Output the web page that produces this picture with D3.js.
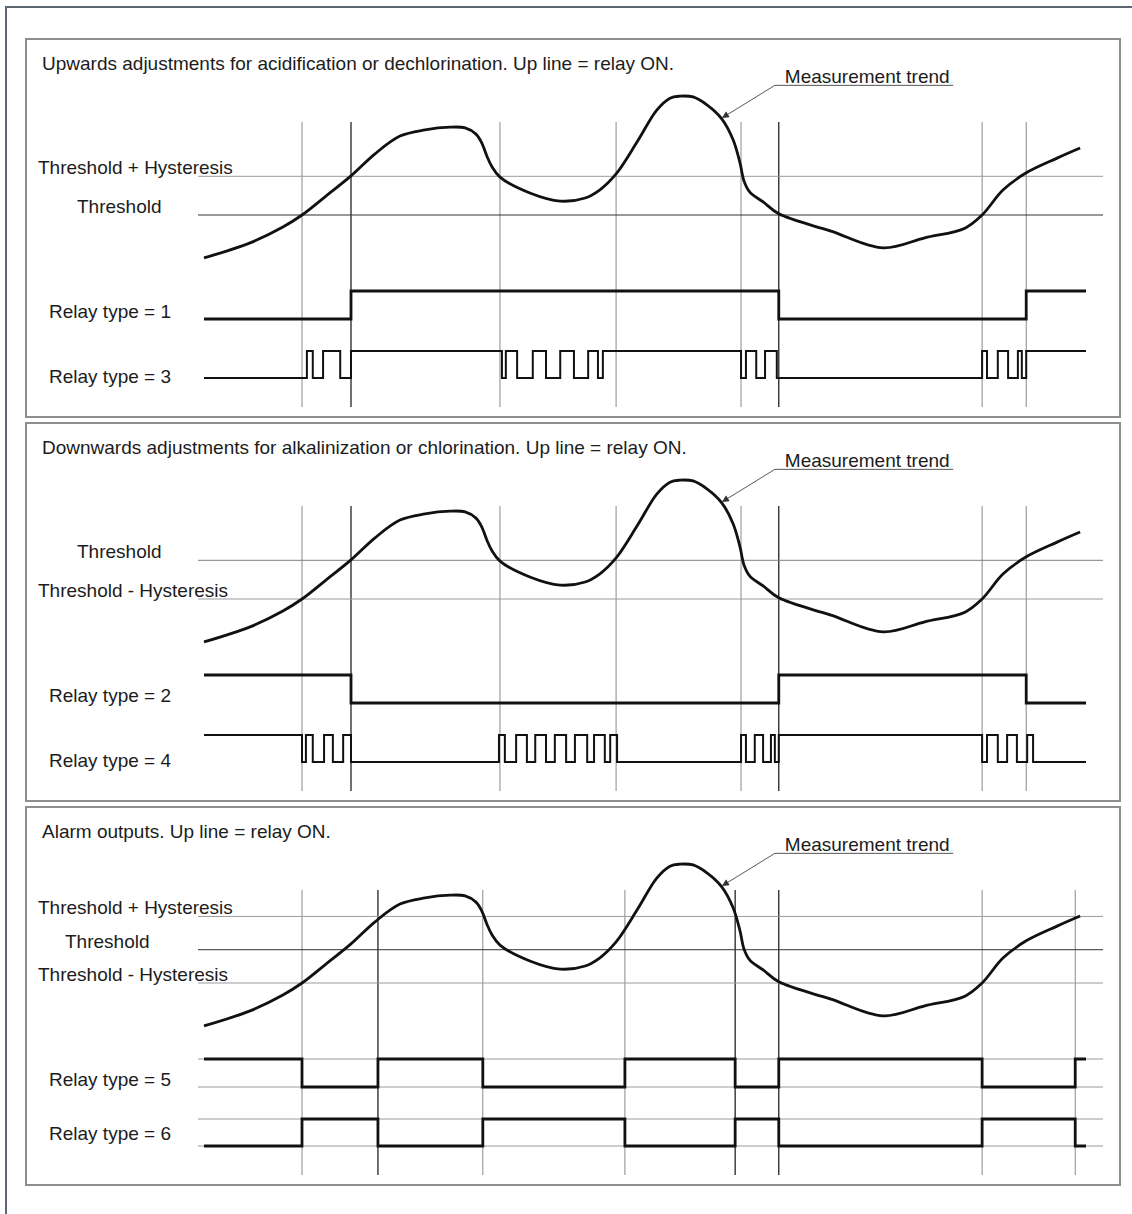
<!DOCTYPE html>
<html>
<head>
<meta charset="utf-8">
<script src="https://cdn.jsdelivr.net/npm/d3@7"></script>
<style>
  body { margin: 0; background: #fff; }
  svg text { font-family: "Liberation Sans", Arial, sans-serif; font-size: 19px; fill: #1c1c1c; }
</style>
</head>
<body>
<svg id="chart" width="1132" height="1214"></svg>
<script>
// Measurement trend (time in s, value in measurement units)
const trendTime = [0, 9.4, 16.1, 20.0, 24.7, 30.0, 34.9, 40.0, 45.1, 50.2, 53.3, 55.5, 56.7, 57.8,
  58.8, 60.4, 66.5, 72.7, 77.8, 80.8, 84.1, 88.4, 92.4, 95.1, 97.1, 99.8, 102.7, 105.7, 108.0,
  109.4, 110.2, 111.4, 114.1, 117.3, 127.8, 138.6, 147.1, 155.3, 158.8, 163.1, 167.8, 174.1, 178.8];
const trendValue = [3.89, 4.28, 4.69, 5.00, 5.47, 6.01, 6.58, 7.04, 7.20, 7.27, 7.25, 7.09, 6.86, 6.50,
  6.24, 5.98, 5.57, 5.36, 5.44, 5.65, 6.06, 6.89, 7.71, 8.02, 8.07, 8.05, 7.84, 7.48, 6.94,
  6.34, 5.88, 5.59, 5.34, 5.03, 4.59, 4.15, 4.41, 4.66, 5.00, 5.65, 6.09, 6.47, 6.73];

// times where the trend crosses a level
const adjustEvents = [20.0, 30.0, 60.4, 84.1, 109.6, 117.3, 158.8, 167.8];
const alarmEvents = [20.0, 35.5, 56.9, 85.9, 108.4, 117.3, 158.8, 177.8];

// relay switching times (each time toggles the state)
const relay1Edges = [30.0, 117.3, 167.8];
const relay3Edges = [21.0, 22.2, 24.3, 27.8, 30.0,
  60.8, 61.6, 63.9, 67.1, 69.8, 72.7, 75.5, 78.4, 80.4, 81.4,
  109.6, 110.6, 112.7, 114.5, 116.9,
  158.8, 159.8, 162.0, 164.1, 166.1, 166.9, 167.8];
const relay2Edges = [30.0, 117.3, 167.8];
const relay4Edges = [20.0, 20.8, 22.2, 24.5, 26.3, 28.4, 30.0,
  60.2, 61.4, 63.7, 65.9, 67.6, 69.8, 71.6, 73.9, 75.7, 78.2, 79.6, 81.8, 82.9, 84.3,
  109.6, 110.6, 112.4, 114.1, 115.7, 116.5, 117.3,
  158.8, 159.8, 162.0, 163.9, 165.9, 168.0, 169.2];
const relay5Edges = alarmEvents;
const relay6Edges = alarmEvents;

const panelTitles = [
  "Upwards adjustments for acidification or dechlorination. Up line = relay ON.",
  "Downwards adjustments for alkalinization or chlorination. Up line = relay ON.",
  "Alarm outputs. Up line = relay ON."
];
const upLevels = [["Threshold + Hysteresis", 6.0], ["Threshold", 5.0]];
const downLevels = [["Threshold", 6.0], ["Threshold - Hysteresis", 5.0]];
const alarmLevels = [["Threshold + Hysteresis", 6.72], ["Threshold", 5.86], ["Threshold - Hysteresis", 5.0]];

const trendLabel = "Measurement trend";
const trendNote = {tip: 105.7, elbow: 116.5, end: 152.9, value: 8.35};

const panels = [
  {title: panelTitles[0], levels: upLevels, events: adjustEvents,
   relays: [["Relay type = 1", 0, relay1Edges], ["Relay type = 3", 0, relay3Edges]]},
  {title: panelTitles[1], levels: downLevels, events: adjustEvents,
   relays: [["Relay type = 2", 1, relay2Edges], ["Relay type = 4", 1, relay4Edges]]},
  {title: panelTitles[2], levels: alarmLevels, events: alarmEvents,
   relays: [["Relay type = 5", 1, relay5Edges], ["Relay type = 6", 0, relay6Edges]]}
];

// layout / style per panel
const layout = [
  {labelX: [38, 77], levelColor: ["#9a9a9a", "#333"], dark: [1, 5], relayLabelY: [279, 344], guides: false, pwm: 1},
  {labelX: [77, 38], levelColor: ["#808080", "#9a9a9a"], dark: [1, 5], relayLabelY: [279, 344], guides: false, pwm: 1},
  {labelX: [38, 65, 38], levelColor: ["#9a9a9a", "#333", "#9a9a9a"], dark: [1, 4, 5], relayLabelY: [279, 333], guides: true, pwm: -1}
];

const svg = d3.select("#chart");
const W = 1132, H = 1214;

svg.append("rect").attr("width", W).attr("height", H).attr("fill", "#fff");
// outer frame
svg.append("rect")
  .attr("x", 6).attr("y", 7).attr("width", W + 20).attr("height", H + 20)
  .attr("fill", "none").attr("stroke", "#5d6872").attr("stroke-width", 2);

svg.append("defs").append("marker")
  .attr("id", "arrow")
  .attr("viewBox", "0 0 10 10")
  .attr("refX", 10).attr("refY", 5)
  .attr("markerWidth", 9).attr("markerHeight", 7)
  .attr("markerUnits", "userSpaceOnUse")
  .attr("orient", "auto")
  .append("path").attr("d", "M0,0L10,5L0,10Z").attr("fill", "#333");

const x = d3.scaleLinear().domain([0, 180]).range([204, 1086]);
const lineStart = x(0) - 6, lineEnd = x(180) + 17;

const trend = trendTime.map((t, i) => ({t, v: trendValue[i]}));
const trendAt = t => {
  const i = d3.bisector(d => d.t).right(trend, t);
  const a = trend[i - 1], b = trend[i];
  return a.v + (b.v - a.v) * (t - a.t) / (b.t - a.t);
};

function stepData(start, edges) {
  const pts = [{t: 0, s: start}];
  let s = start;
  edges.forEach(e => { s = 1 - s; pts.push({t: e, s}); });
  pts.push({t: 180, s});
  return pts;
}

const panelTop0 = 39, panelStep = 384, panelH = 378;

panels.forEach((p, pi) => {
  const L = layout[pi];
  const top = panelTop0 + pi * panelStep;
  const g = svg.append("g");

  g.append("rect")
    .attr("x", 26).attr("y", top).attr("width", 1094).attr("height", panelH)
    .attr("fill", "#fff").attr("stroke", "#8e8e8e").attr("stroke-width", 2);

  g.append("text").attr("x", 42).attr("y", top + 31).text(p.title);

  const y = d3.scaleLinear().domain([5, 6]).range([top + 176, top + 176 - 38.7]);

  // event verticals
  g.selectAll(".ev").data(p.events).join("line")
    .attr("x1", d => x(d)).attr("x2", d => x(d))
    .attr("y1", top + 83).attr("y2", top + 368)
    .attr("stroke", (d, i) => L.dark.includes(i) ? "#222" : "#8a8a8a")
    .attr("stroke-width", (d, i) => L.dark.includes(i) ? 1.3 : 1);

  // threshold levels
  p.levels.forEach(([label, v], li) => {
    g.append("line")
      .attr("x1", lineStart).attr("x2", lineEnd)
      .attr("y1", y(v)).attr("y2", y(v))
      .attr("stroke", L.levelColor[li]).attr("stroke-width", 1);
    g.append("text").attr("x", L.labelX[li]).attr("y", y(v) - 2).text(label);
  });

  // relay rows
  const rows = [[top + 280, top + 252], [top + 339, top + 312]];
  p.relays.forEach(([label, start, edges], ri) => {
    const ry = d3.scaleLinear().domain([0, 1]).range(rows[ri]);
    if (L.guides) {
      rows[ri].forEach(yy => g.append("line")
        .attr("x1", lineStart).attr("x2", lineEnd).attr("y1", yy).attr("y2", yy)
        .attr("stroke", "#9a9a9a").attr("stroke-width", 1));
    }
    g.append("text").attr("x", 49).attr("y", top + L.relayLabelY[ri]).text(label);
    g.append("path")
      .datum(stepData(start, edges))
      .attr("fill", "none").attr("stroke", "#111")
      .attr("stroke-width", ri === L.pwm ? 2 : 2.8)
      .attr("stroke-linejoin", "miter")
      .attr("d", d3.line().x(d => x(d.t)).y(d => ry(d.s)).curve(d3.curveStepAfter));
  });

  // measurement trend
  g.append("path")
    .datum(trend)
    .attr("fill", "none").attr("stroke", "#111").attr("stroke-width", 2.8)
    .attr("d", d3.line().x(d => x(d.t)).y(d => y(d.v)).curve(d3.curveCatmullRom.alpha(0.5)));

  // annotation
  const ny = y(trendNote.value);
  g.append("line")
    .attr("x1", x(trendNote.elbow)).attr("y1", ny)
    .attr("x2", x(trendNote.tip)).attr("y2", y(trendAt(trendNote.tip)) - 1)
    .attr("stroke", "#444").attr("stroke-width", 0.9)
    .attr("marker-end", "url(#arrow)");
  g.append("line")
    .attr("x1", x(trendNote.elbow)).attr("x2", x(trendNote.end))
    .attr("y1", ny).attr("y2", ny)
    .attr("stroke", "#555").attr("stroke-width", 1);
  g.append("text").attr("x", x(trendNote.elbow) + 10).attr("y", ny - 2).text(trendLabel);
});
</script>
</body>
</html>
